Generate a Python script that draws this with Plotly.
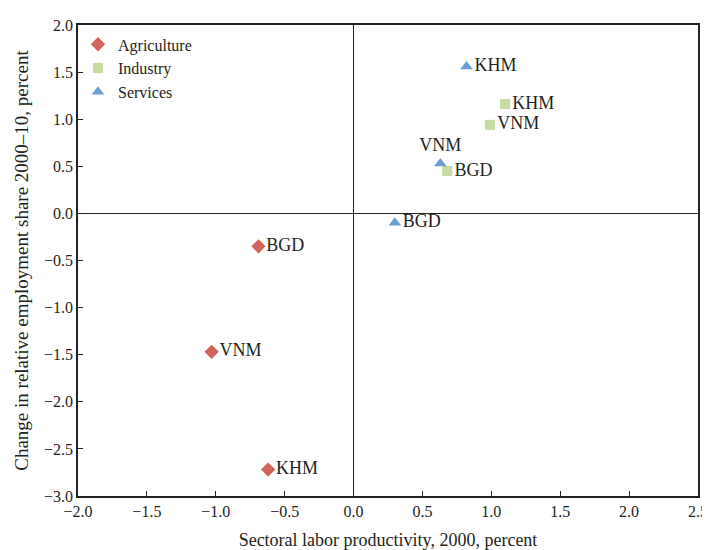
import plotly.graph_objects as go

countries = ["BGD", "VNM", "KHM"]
agri_x = [-0.69, -1.03, -0.62]
agri_y = [-0.35, -1.47, -2.72]
ind_x = [0.68, 0.99, 1.10]
ind_y = [0.45, 0.94, 1.16]
serv_x = [0.30, 0.63, 0.82]
serv_y = [-0.10, 0.53, 1.56]
x_ticks = [-2.0, -1.5, -1.0, -0.5, 0.0, 0.5, 1.0, 1.5, 2.0, 2.5]
y_ticks = [2.0, 1.5, 1.0, 0.5, 0.0, -0.5, -1.0, -1.5, -2.0, -2.5, -3.0]

FONT = "Liberation Serif"
TXT = "#231f20"

def fmt(v):
    s = f"{v:.1f}"
    return s.replace("-", "\u2212")

fig = go.Figure()
fig.add_trace(go.Scatter(
    x=agri_x, y=agri_y, mode="markers+text", name="Agriculture",
    text=countries, textposition="middle right",
    textfont=dict(family=FONT, size=18, color=TXT),
    marker=dict(symbol="diamond", size=11, color="#d2625c"),
))
fig.add_trace(go.Scatter(
    x=ind_x, y=ind_y, mode="markers+text", name="Industry",
    text=countries, textposition="middle right",
    textfont=dict(family=FONT, size=18, color=TXT),
    marker=dict(symbol="square", size=10, color="#c5dba1"),
))
fig.add_trace(go.Scatter(
    x=serv_x, y=serv_y, mode="markers+text", name="Services",
    text=countries, textposition=["middle right", "top center", "middle right"],
    textfont=dict(family=FONT, size=18, color=TXT),
    marker=dict(symbol="triangle-up", size=11, color="#6d9fd6"),
))

fig.update_layout(
    width=702, height=542,
    margin=dict(l=70, r=12, t=17, b=54, autoexpand=False),
    paper_bgcolor="white", plot_bgcolor="white",
    font=dict(family=FONT, size=16, color=TXT),
    showlegend=True,
    legend=dict(x=0.0, y=0.995, xanchor="left", yanchor="top",
                bgcolor="rgba(0,0,0,0)", font=dict(family=FONT, size=16, color=TXT),
                itemwidth=30, tracegroupgap=0),
    xaxis=dict(range=[-2.0, 2.5], tickvals=x_ticks, ticktext=[fmt(v) for v in x_ticks],
               ticks="inside", ticklen=5, tickcolor="#222", showgrid=False, automargin=False,
               showline=True, linecolor="#222", linewidth=1.5, mirror=True,
               zeroline=True, zerolinecolor="#222", zerolinewidth=1.4,
               tickfont=dict(family=FONT, size=16, color=TXT),
               title=dict(text="Sectoral labor productivity, 2000, percent",
                          font=dict(family=FONT, size=18, color=TXT), standoff=14)),
    yaxis=dict(range=[-3.0, 2.0], tickvals=y_ticks, ticktext=[fmt(v) for v in y_ticks],
               ticks="inside", ticklen=5, tickcolor="#222", showgrid=False, automargin=False,
               showline=True, linecolor="#222", linewidth=1.5, mirror=True,
               zeroline=True, zerolinecolor="#222", zerolinewidth=1.4,
               tickfont=dict(family=FONT, size=16, color=TXT),
               title=dict(text="Change in relative employment share 2000\u201310, percent",
                          font=dict(family=FONT, size=19, color=TXT), standoff=10)),
)

fig.write_html("out.html")
